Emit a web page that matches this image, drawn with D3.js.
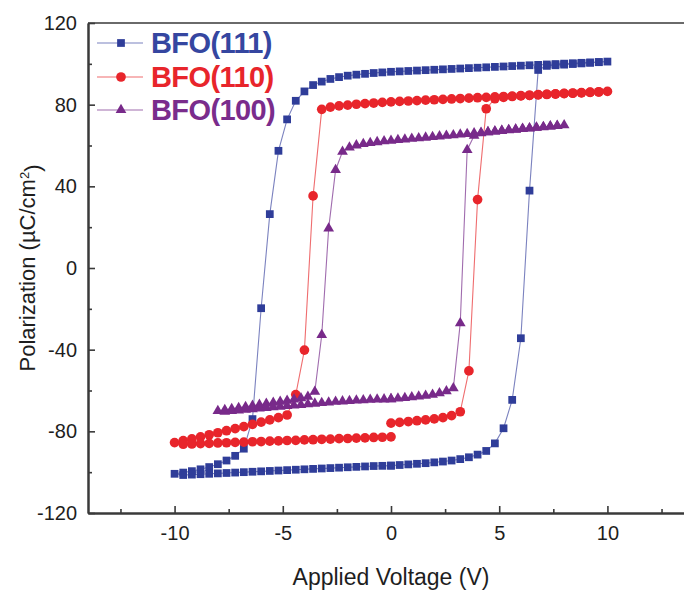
<!DOCTYPE html>
<html>
<head>
<meta charset="utf-8">
<script src="https://cdn.jsdelivr.net/npm/d3@7"></script>
<style>
  html, body { margin: 0; padding: 0; background: #ffffff; }
  svg { display: block; }
  text { font-family: "Liberation Sans", Arial, Helvetica, sans-serif; }
</style>
</head>
<body>
<svg id="chart" width="684" height="594"></svg>
<script>
// ---- Data: P–V hysteresis loops (sweep 0 -> +Vmax -> -Vmax -> 0) ----
const seriesNames = ["BFO(111)", "BFO(110)", "BFO(100)"];

const xTicks = [-10, -5, 0, 5, 10];
const xMinorTicks = [-12.5, -7.5, -2.5, 2.5, 7.5, 12.5];
const yTicks = [-120, -80, -40, 0, 40, 80, 120];
const yMinorTicks = [-100, -60, -20, 20, 60, 100];

// Applied voltage sweep, ±10 V (used by BFO(111) and BFO(110))
const voltage10V = [
  0, 0.4, 0.8, 1.2, 1.6, 2, 2.4, 2.8, 3.2, 3.6, 4, 4.4, 4.8, 5.2, 5.6, 6, 6.4, 6.8, 7.2, 7.6, 8, 8.4, 8.8, 9.2, 9.6, 10,
  9.6, 9.2, 8.8, 8.4, 8, 7.6, 7.2, 6.8, 6.4, 6, 5.6, 5.2, 4.8, 4.4, 4, 3.6, 3.2, 2.8, 2.4, 2, 1.6, 1.2, 0.8, 0.4, 0,
  -0.4, -0.8, -1.2, -1.6, -2, -2.4, -2.8, -3.2, -3.6, -4, -4.4, -4.8, -5.2, -5.6, -6, -6.4, -6.8, -7.2, -7.6, -8, -8.4, -8.8, -9.2, -9.6, -10,
  -9.6, -9.2, -8.8, -8.4, -8, -7.6, -7.2, -6.8, -6.4, -6, -5.6, -5.2, -4.8, -4.4, -4, -3.6, -3.2, -2.8, -2.4, -2, -1.6, -1.2, -0.8, -0.4, 0
];

// Applied voltage sweep, ±8 V (used by BFO(100))
const voltage8V = [
  0, 0.32, 0.64, 0.96, 1.28, 1.6, 1.92, 2.24, 2.56, 2.88, 3.2, 3.52, 3.84, 4.16, 4.48, 4.8, 5.12, 5.44, 5.76, 6.08, 6.4, 6.72, 7.04, 7.36, 7.68, 8,
  7.68, 7.36, 7.04, 6.72, 6.4, 6.08, 5.76, 5.44, 5.12, 4.8, 4.48, 4.16, 3.84, 3.52, 3.2, 2.88, 2.56, 2.24, 1.92, 1.6, 1.28, 0.96, 0.64, 0.32, 0,
  -0.32, -0.64, -0.96, -1.28, -1.6, -1.92, -2.24, -2.56, -2.88, -3.2, -3.52, -3.84, -4.16, -4.48, -4.8, -5.12, -5.44, -5.76, -6.08, -6.4, -6.72, -7.04, -7.36, -7.68, -8,
  -7.68, -7.36, -7.04, -6.72, -6.4, -6.08, -5.76, -5.44, -5.12, -4.8, -4.48, -4.16, -3.84, -3.52, -3.2, -2.88, -2.56, -2.24, -1.92, -1.6, -1.28, -0.96, -0.64, -0.32, 0
];

// Polarization (µC/cm²)
const polarization111 = [
  -96.8, -96.5, -96.2, -95.9, -95.6, -95.2, -94.8, -94.3, -93.6, -92.7, -91.4, -89.6, -85.9, -78.5, -64.6, -34.4, 37.9, 97.0, 99.0, 99.3, 99.6, 99.9, 100.2, 100.5, 100.8, 101.1,
  100.9, 100.7, 100.5, 100.3, 100.1, 99.9, 99.7, 99.5, 99.3, 99.1, 98.9, 98.7, 98.5, 98.3, 98.1, 97.9, 97.7, 97.5, 97.3, 97.1, 96.9, 96.7, 96.5, 96.3, 96.1,
  95.8, 95.5, 95.1, 94.7, 94.2, 93.5, 92.6, 91.3, 89.6, 86.5, 81.9, 72.8, 57.4, 26.4, -19.7, -74.0, -88.5, -92.0, -94.3, -96.1, -97.5, -98.6, -99.5, -100.2, -100.8,
  -101.4, -101.2, -101.0, -100.8, -100.6, -100.4, -100.2, -100.0, -99.8, -99.6, -99.4, -99.2, -99.0, -98.8, -98.6, -98.4, -98.2, -98.0, -97.8, -97.6, -97.4, -97.2, -97.0, -96.9, -96.8
];

const polarization110 = [
  -76.0, -75.6, -75.2, -74.8, -74.4, -73.9, -73.3, -72.3, -70.4, -50.4, 33.5, 78.0, 82.9, 83.6, 84.0, 84.3, 84.6, 84.9, 85.1, 85.3, 85.5, 85.7, 85.9, 86.1, 86.3, 86.5,
  86.2, 86.0, 85.8, 85.6, 85.4, 85.2, 85.0, 84.8, 84.6, 84.4, 84.2, 84.0, 83.8, 83.6, 83.4, 83.2, 83.0, 82.8, 82.6, 82.4, 82.2, 82.0, 81.8, 81.6, 81.4,
  81.1, 80.8, 80.5, 80.2, 79.8, 79.4, 78.8, 77.7, 35.3, -40.2, -62.0, -72.0, -73.3, -74.4, -75.5, -76.6, -77.7, -78.7, -79.7, -80.7, -81.7, -82.7, -83.7, -84.6, -85.5,
  -86.3, -86.2, -86.0, -85.9, -85.7, -85.6, -85.4, -85.3, -85.1, -85.0, -84.8, -84.7, -84.5, -84.4, -84.2, -84.1, -83.9, -83.8, -83.6, -83.5, -83.3, -83.2, -83.0, -82.9, -82.7
];

const polarization100 = [
  -64.2, -63.9, -63.6, -63.3, -62.9, -62.5, -62.0, -61.3, -60.3, -58.9, -27.0, 57.8, 64.8, 66.0, 66.5, 66.9, 67.3, 67.6, 67.9, 68.2, 68.5, 68.8, 69.1, 69.4, 69.7, 70.0,
  69.6, 69.3, 69.0, 68.7, 68.4, 68.1, 67.8, 67.5, 67.2, 66.9, 66.6, 66.3, 66.0, 65.7, 65.4, 65.1, 64.8, 64.5, 64.2, 63.9, 63.6, 63.3, 63.0, 62.7, 62.4,
  62.1, 61.7, 61.3, 60.8, 60.1, 59.1, 57.0, 48.0, 19.4, -32.8, -60.6, -63.0, -63.8, -64.4, -65.0, -65.5, -66.0, -66.5, -67.0, -67.5, -68.0, -68.5, -69.0, -69.5, -70.0,
  -70.3, -70.0, -69.7, -69.4, -69.1, -68.8, -68.5, -68.2, -67.9, -67.6, -67.3, -67.0, -66.7, -66.4, -66.1, -65.8, -65.5, -65.3, -65.1, -64.9, -64.7, -64.5, -64.4, -64.3, -64.2
];

// ---- Styling ----
const styles = [
  { name: seriesNames[0], v: voltage10V, p: polarization111, marker: "square",   fill: "#2f3d99", line: "#7b82bf", text: "#3546a0" },
  { name: seriesNames[1], v: voltage10V, p: polarization110, marker: "circle",   fill: "#e8252b", line: "#ef6d6f", text: "#e8252b" },
  { name: seriesNames[2], v: voltage8V,  p: polarization100, marker: "triangle", fill: "#782a8a", line: "#a06cae", text: "#7a2c8c" }
];

const svg = d3.select("#chart");

const x = d3.scaleLinear().domain([-14, 14]).range([88, 694]);
const y = d3.scaleLinear().domain([-120, 120]).range([513, 23]);

const symbolFor = {
  square: d3.symbol().type(d3.symbolSquare).size(60),
  circle: d3.symbol().type(d3.symbolCircle).size(74),
  triangle: d3.symbol().type(d3.symbolTriangle).size(50)
};

// ---- Frame and axes ----
const axisColor = "#3a3a3a";
const plainNumber = d => String(d);

// top border of the frame
svg.append("line")
  .attr("x1", x(-14)).attr("x2", x(14))
  .attr("y1", y(120)).attr("y2", y(120))
  .attr("stroke", "#6a6a6a").attr("stroke-width", 2);

const yAxis = svg.append("g")
  .attr("transform", `translate(${x(-14)},0)`)
  .call(d3.axisLeft(y).tickValues(yTicks).tickFormat(plainNumber).tickSize(-7).tickSizeOuter(0).tickPadding(11));
const yMinor = svg.append("g")
  .attr("transform", `translate(${x(-14)},0)`)
  .call(d3.axisLeft(y).tickValues(yMinorTicks).tickSize(-4).tickSizeOuter(0).tickFormat(""));

const xAxis = svg.append("g")
  .attr("transform", `translate(0,${y(-120)})`)
  .call(d3.axisBottom(x).tickValues(xTicks).tickFormat(plainNumber).tickSize(-7).tickSizeOuter(0).tickPadding(13));
const xMinor = svg.append("g")
  .attr("transform", `translate(0,${y(-120)})`)
  .call(d3.axisBottom(x).tickValues(xMinorTicks).tickSize(-4).tickSizeOuter(0).tickFormat(""));

[yAxis, yMinor, xAxis, xMinor].forEach(g => {
  g.select(".domain").attr("stroke", axisColor).attr("stroke-width", 2);
  g.selectAll(".tick line").attr("stroke", axisColor).attr("stroke-width", 1.6);
  g.selectAll(".tick text")
    .attr("fill", "#1e1e1e")
    .style("font-size", "20px")
    .style("font-family", "'Liberation Sans', Arial, sans-serif");
});

// axis titles
svg.append("text")
  .attr("x", x(0)).attr("y", 585)
  .attr("text-anchor", "middle")
  .attr("fill", "#1e1e1e")
  .style("font-size", "23px")
  .text("Applied Voltage (V)");

const yTitle = svg.append("text")
  .attr("transform", `translate(35,${y(0)}) rotate(-90)`)
  .attr("text-anchor", "middle")
  .attr("fill", "#1e1e1e")
  .style("font-size", "22px");
yTitle.append("tspan").text("Polarization (µC/cm");
yTitle.append("tspan").attr("dy", "-0.5em").style("font-size", "13px").text("2");
yTitle.append("tspan").attr("dy", "0.5em").text(")");

// ---- Loops (drawn bottom to top: 111, 110, 100) ----
const lineGen = d3.line().x(d => x(d[0])).y(d => y(d[1]));

styles.forEach(s => {
  const pts = s.v.map((v, i) => [v, s.p[i]]);
  const g = svg.append("g");
  g.append("path")
    .datum(pts)
    .attr("d", lineGen)
    .attr("fill", "none")
    .attr("stroke", s.line)
    .attr("stroke-width", 1.1);
  g.selectAll("path.mark")
    .data(pts)
    .join("path")
    .attr("class", "mark")
    .attr("d", symbolFor[s.marker])
    .attr("transform", d => `translate(${x(d[0])},${y(d[1])})`)
    .attr("fill", s.fill);
});

// ---- Legend ----
const legendRows = [43, 77, 110];
styles.forEach((s, i) => {
  const g = svg.append("g").attr("transform", `translate(0,${legendRows[i]})`);
  g.append("line")
    .attr("x1", 97).attr("x2", 143).attr("y1", 0).attr("y2", 0)
    .attr("stroke", s.line).attr("stroke-width", 1.1);
  g.append("path")
    .attr("d", symbolFor[s.marker])
    .attr("transform", "translate(121,0)")
    .attr("fill", s.fill);
  g.append("text")
    .attr("x", 151).attr("y", 10)
    .attr("fill", s.text)
    .style("font-size", "29px")
    .style("font-weight", "bold")
    .style("letter-spacing", "-0.6px")
    .text(s.name);
});
</script>
</body>
</html>
